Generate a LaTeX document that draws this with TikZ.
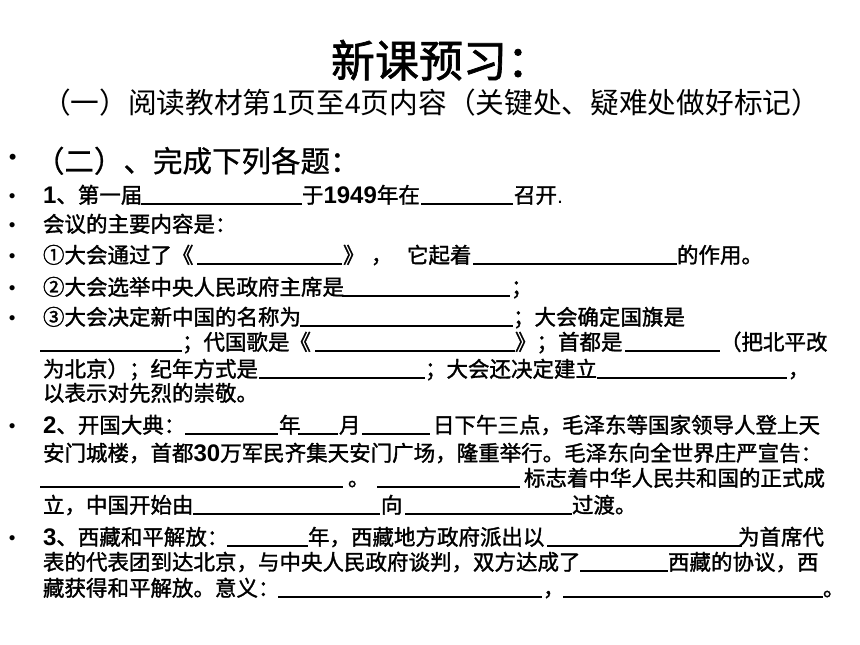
\documentclass[tikz,border=0pt]{standalone}
\usepackage{fontspec}
\setmainfont{Noto Sans CJK SC}[FakeBold=1.5]
\newfontfamily\cjkreg{Noto Sans CJK SC}
\newfontfamily\cjkmid{Noto Sans CJK SC}[FakeBold=0.8]
\newfontfamily\dg{Liberation Sans}
\newcommand\fs[1]{\fontsize{#1pt}{#1pt}\selectfont}
\newcommand\B[1]{{\dg\bfseries\fs{24}#1}}
\tikzset{
  txt/.style={anchor=base west, inner sep=0pt, outer sep=0pt, font=\fs{21.5}},
  ul/.style={line width=1.8pt},
  bul/.style={anchor=base west, inner sep=0pt, outer sep=0pt, font=\dg\fs{19}}
}
\begin{document}
\begin{tikzpicture}[x=1pt,y=-1pt]
\useasboundingbox[fill=white] (0,0) rectangle (860,645);
% title
\node[txt, font=\fs{44}] (title) at (331,77) {新课预习：};
\node[txt, font=\cjkreg\fs{28.7}] (sub) at (42,113) {（一）阅读教材第{\dg 1}页至{\dg 4}页内容（关键处、疑难处做好标记）};
\node[bul, font=\dg\fs{22}] (b0) at (9,164) {•};
\node[txt, font=\cjkmid\fs{29.5}] (h2) at (35,172) {（二）、完成下列各题：};
% bullets
\node[bul] (b1) at (9,202) {•};
\node[bul] (b2) at (9,231) {•};
\node[bul] (b3) at (9,262) {•};
\node[bul] (b4) at (9,294) {•};
\node[bul] (b5) at (9,324) {•};
\node[bul] (b6) at (9,432) {•};
\node[bul] (b7) at (9,544) {•};
% row 1
\node[txt] (r1a) at (43,203) {\B{1}、第一届};
\node[txt] (r1b) at (302,203) {于\B{1949}年在};
\node[txt] (r1c) at (514,203) {召开{\dg .}};
\draw[ul] (141,204) -- (302,204);
\draw[ul] (421,204) -- (513,204);
% row 2
\node[txt] (r2a) at (43,232) {会议的主要内容是：};
% row 3
\node[txt] (r3a) at (43,263) {①大会通过了《};
\node[txt] (r3b) at (343,263) {》};
\node[txt] (r3c) at (371,263) {，};
\node[txt] (r3d) at (407,263) {它起着};
\node[txt] (r3e) at (677,263) {的作用。};
\draw[ul] (197,264) -- (342,264);
\draw[ul] (473,264) -- (677,264);
% row 4
\node[txt] (r4a) at (43,295) {②大会选举中央人民政府主席是};
\node[txt] (r4b) at (511,295) {；};
\draw[ul] (342,296) -- (510,296);
% row 5
\node[txt] (r5a) at (43,325) {③大会决定新中国的名称为};
\node[txt] (r5b) at (513,325) {；大会确定国旗是};
\draw[ul] (300,326) -- (513,326);
% row 6
\node[txt] (r6a) at (182,350) {；代国歌是《};
\node[txt] (r6b) at (515,350) {》；首都是};
\node[txt] (r6c) at (720,350) {（把北平改};
\draw[ul] (40,351) -- (182,351);
\draw[ul] (315,351) -- (515,351);
\draw[ul] (625,351) -- (720,351);
% row 7
\node[txt] (r7a) at (43,377) {为北京）；纪年方式是};
\node[txt] (r7b) at (425,377) {；大会还决定建立};
\node[txt] (r7c) at (788,377) {，};
\draw[ul] (259,378) -- (425,378);
\draw[ul] (597,378) -- (787,378);
% row 8
\node[txt] (r8a) at (43,401) {以表示对先烈的崇敬。};
% item 2
\node[txt] (s1a) at (43,433) {\B{2}、开国大典：};
\node[txt] (s1b) at (279,433) {年};
\node[txt] (s1c) at (339,433) {月};
\node[txt] (s1d) at (433,433) {日下午三点，毛泽东等国家领导人登上天};
\draw[ul] (185,434) -- (278,434);
\draw[ul] (298,434) -- (338,434);
\draw[ul] (362,434) -- (430,434);
\node[txt] (s2a) at (43,461) {安门城楼，首都\B{30}万军民齐集天安门广场，隆重举行。毛泽东向全世界庄严宣告：};
\node[txt] (s3a) at (348,486) {。};
\node[txt] (s3b) at (524,486) {标志着中华人民共和国的正式成};
\draw[ul] (40,487) -- (343,487);
\draw[ul] (377,487) -- (520,487);
\node[txt] (s4a) at (43,513) {立，中国开始由};
\node[txt] (s4b) at (381,513) {向};
\node[txt] (s4c) at (572,513) {过渡。};
\draw[ul] (193,514) -- (380,514);
\draw[ul] (405,514) -- (572,514);
% item 3
\node[txt] (t1a) at (43,545) {\B{3}、西藏和平解放：};
\node[txt] (t1b) at (308,545) {年，西藏地方政府派出以};
\node[txt] (t1c) at (738,545) {为首席代};
\draw[ul] (227,546) -- (308,546);
\draw[ul] (547,546) -- (742,546);
\node[txt] (t2a) at (43,570) {表的代表团到达北京，与中央人民政府谈判，双方达成了};
\node[txt] (t2b) at (668,570) {西藏的协议，西};
\draw[ul] (580,571) -- (668,571);
\node[txt] (t3a) at (43,596) {藏获得和平解放。意义：};
\node[txt] (t3b) at (543,596) {，};
\node[txt] (t3c) at (823,596) {。};
\draw[ul] (278,597) -- (542,597);
\draw[ul] (563,597) -- (823,597);
\end{tikzpicture}
\end{document}
